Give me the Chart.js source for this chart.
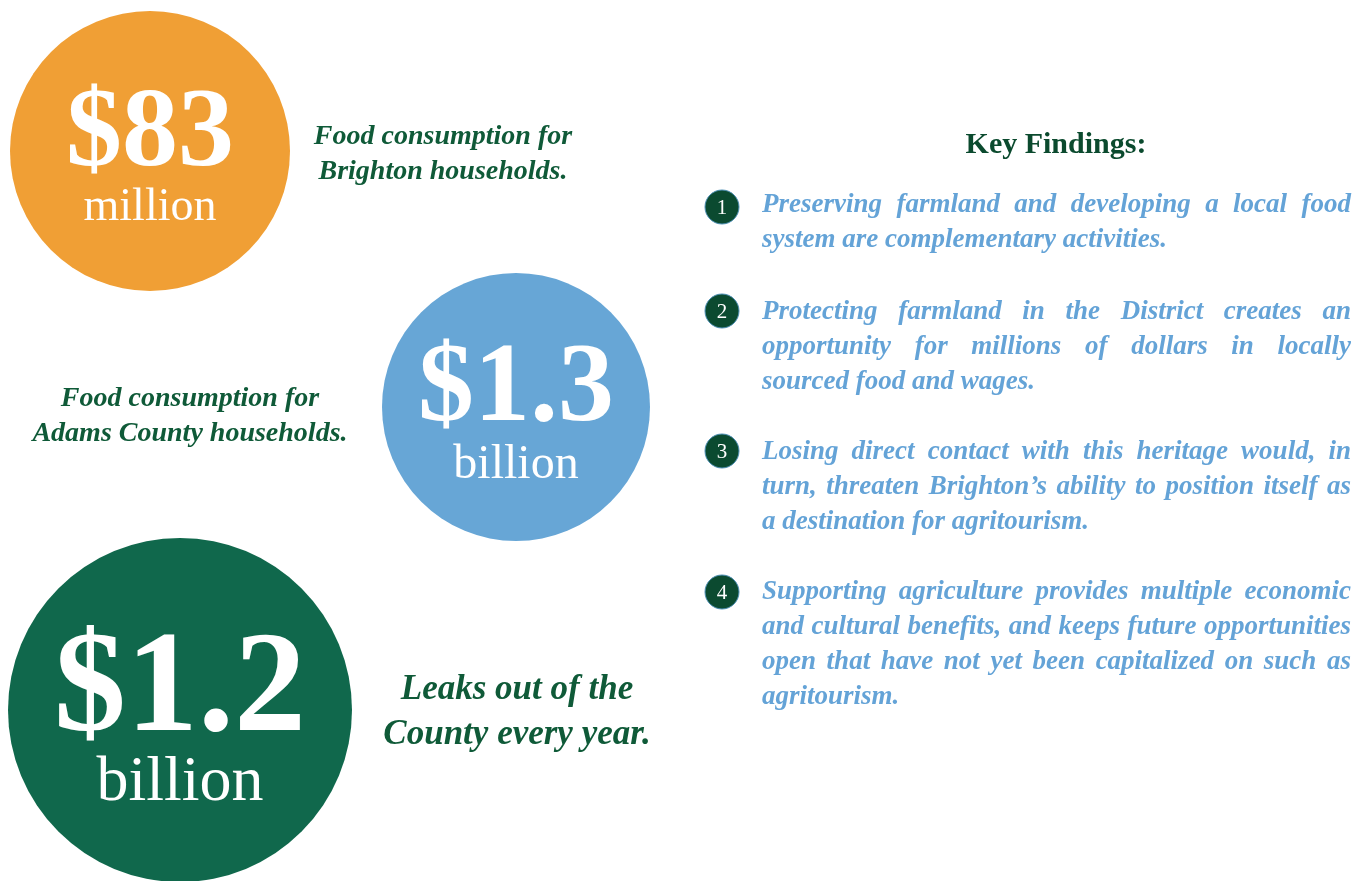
<!DOCTYPE html>
<html>
<head>
<meta charset="utf-8">
<script src="https://cdn.jsdelivr.net/npm/chart.js@4.4.0/dist/chart.umd.min.js"></script>
<style>
  html, body { margin: 0; padding: 0; background: #fff; }
  #wrap { position: relative; width: 1369px; height: 881px; overflow: hidden; }
  #wrap canvas { position: absolute; left: 0; top: 0; }
  .cap {
    position: absolute; transform: translateX(-50%);
    font-family: "Liberation Serif", serif; font-style: italic; font-weight: bold;
    color: #0f5a38; text-align: center; white-space: nowrap;
  }
  .head {
    position: absolute; transform: translateX(-50%);
    font-family: "Liberation Serif", serif; font-weight: bold;
    font-size: 30px; line-height: 35px; color: #0b4a2e; white-space: nowrap;
  }
  .para {
    position: absolute; left: 762px; width: 589px;
    font-family: "Liberation Serif", serif; font-style: italic; font-weight: bold;
    font-size: 27px; line-height: 35px; color: #64a3d7;
  }
  .ln { display: block; white-space: nowrap; text-align: justify; text-align-last: justify; }
  .ln.last { text-align: left; text-align-last: left; }
</style>
</head>
<body>
<div id="wrap">
  <canvas id="infoChart" width="1369" height="881"></canvas>
</div>
<script>
// values shown in the big circles
const amounts = ['$83', '$1.3', '$1.2'];
const units = ['million', 'billion', 'billion'];
const captions = [
  ['Food consumption for', 'Brighton households.'],
  ['Food consumption for', 'Adams County households.'],
  ['Leaks out of the', 'County every year.']
];
const findingNumbers = ['1', '2', '3', '4'];
const findings = [
  ['Preserving farmland and developing a local food', 'system are complementary activities.'],
  ['Protecting farmland in the District creates an', 'opportunity for millions of dollars in locally', 'sourced food and wages.'],
  ['Losing direct contact with this heritage would, in', 'turn, threaten Brighton\u2019s ability to position itself as', 'a destination for agritourism.'],
  ['Supporting agriculture provides multiple economic', 'and cultural benefits, and keeps future opportunities', 'open that have not yet been capitalized on such as', 'agritourism.']
];

// layout (page coordinates)
const bubbleX = [150, 516, 180];
const bubbleY = [151, 407, 710];
const bubbleR = [140, 134, 172];
const bubbleColors = ['#f09f35', '#67a6d6', '#10684c'];
const amountFont = [112, 112, 144];
const unitFont = [46, 48, 64];
const amountDy = [14, 13, 20];
const unitDy = [69, 71, 90];
const markerX = 722;
const markerY = [207, 311, 451, 592];
const markerR = 17;
const captionX = [443, 190, 517];
const captionTop = [117, 379, 665];
const captionSize = [28, 28, 35];
const captionLine = [35, 35, 45];
const findingTop = [186, 293, 433, 573];

const wrap = document.getElementById('wrap');
captions.forEach(function(lines, i) {
  const d = document.createElement('div');
  d.className = 'cap';
  d.style.left = captionX[i] + 'px';
  d.style.top = captionTop[i] + 'px';
  d.style.fontSize = captionSize[i] + 'px';
  d.style.lineHeight = captionLine[i] + 'px';
  d.innerHTML = lines.join('<br>');
  wrap.appendChild(d);
});
const head = document.createElement('div');
head.className = 'head';
head.style.left = '1056px';
head.style.top = '125px';
head.textContent = 'Key Findings:';
wrap.appendChild(head);
findings.forEach(function(lines, i) {
  const p = document.createElement('div');
  p.className = 'para';
  p.style.top = findingTop[i] + 'px';
  lines.forEach(function(t, j) {
    const s = document.createElement('span');
    s.className = 'ln' + (j === lines.length - 1 ? ' last' : '');
    s.textContent = t;
    p.appendChild(s);
  });
  wrap.appendChild(p);
});

const labelPlugin = {
  id: 'bubbleLabels',
  afterDatasetsDraw(chart) {
    const ctx = chart.ctx;
    ctx.save();
    ctx.fillStyle = '#ffffff';
    ctx.textAlign = 'center';
    ctx.textBaseline = 'alphabetic';
    chart.getDatasetMeta(0).data.forEach(function(el, i) {
      ctx.font = 'bold ' + amountFont[i] + 'px "Liberation Serif"';
      ctx.fillText(amounts[i], el.x, el.y + amountDy[i]);
      ctx.font = unitFont[i] + 'px "Liberation Serif"';
      ctx.fillText(units[i], el.x, el.y + unitDy[i]);
    });
    ctx.font = '21px "Liberation Serif"';
    ctx.textBaseline = 'middle';
    chart.getDatasetMeta(1).data.forEach(function(el, i) {
      ctx.fillText(findingNumbers[i], el.x, el.y + 1);
    });
    ctx.restore();
  }
};

new Chart(document.getElementById('infoChart').getContext('2d'), {
  type: 'bubble',
  data: {
    datasets: [{
      data: amounts.map(function(a, i) { return { x: bubbleX[i], y: bubbleY[i], r: bubbleR[i] }; }),
      backgroundColor: bubbleColors,
      borderWidth: 0,
      clip: false
    }, {
      data: findingNumbers.map(function(n, i) { return { x: markerX, y: markerY[i], r: markerR }; }),
      backgroundColor: '#0b4a30',
      borderColor: '#4d8fb5',
      borderWidth: 1,
      clip: false
    }]
  },
  options: {
    responsive: false,
    animation: false,
    events: [],
    layout: { padding: 0, autoPadding: false },
    plugins: { legend: { display: false }, tooltip: { enabled: false } },
    scales: {
      x: { type: 'linear', min: 0, max: 1369, display: false },
      y: { type: 'linear', min: 0, max: 881, reverse: true, display: false }
    }
  },
  plugins: [labelPlugin]
});
</script>
</body>
</html>
